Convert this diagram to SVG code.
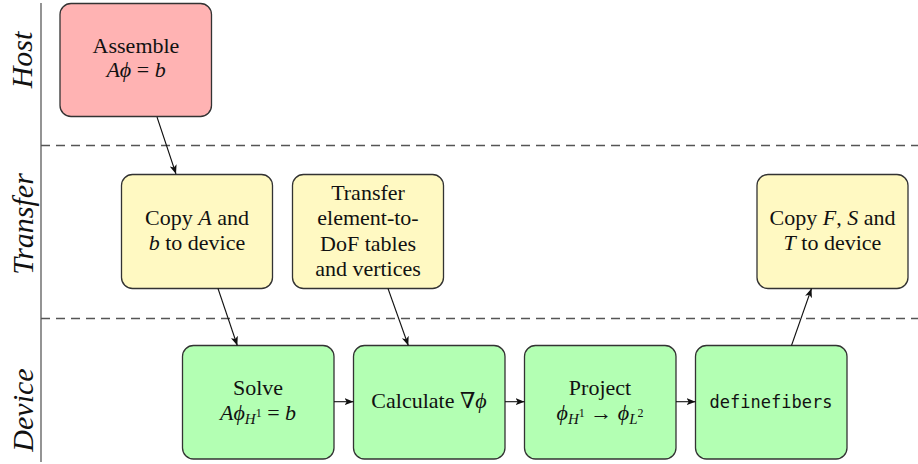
<svg xmlns="http://www.w3.org/2000/svg" width="918" height="464" viewBox="0 0 918 464">
<style>
  .box { stroke: #333; stroke-width: 1.3; }
  .host { fill: #ffb3b3; }
  .xfer { fill: #fff9c2; }
  .dev { fill: #b3ffb3; }
  .t { font-family: "Liberation Serif", "DejaVu Serif", serif; font-size: 22px; fill: #111; text-anchor: middle; }
  .i { font-style: italic; }
  .sub { font-size: 15px; font-style: italic; }
  .sup { font-size: 12px; }
  .mono { font-family: "DejaVu Sans Mono", "Liberation Mono", monospace; font-size: 17px; fill: #111; text-anchor: middle; }
  .lane { font-family: "Liberation Serif", "DejaVu Serif", serif; font-size: 30px; font-style: italic; fill: #111; text-anchor: middle; }
  .conn { stroke: #111; stroke-width: 1.1; fill: none; marker-end: url(#ah); }
  .sep { stroke: #555; stroke-width: 1.3; stroke-dasharray: 9 6; }
</style>
<defs>
  <marker id="ah" viewBox="0 0 10 10" refX="10" refY="5" markerWidth="9" markerHeight="9" markerUnits="userSpaceOnUse" orient="auto">
    <path d="M0,1 L10,5 L0,9 L2.5,5 Z" fill="#111"/>
  </marker>
</defs>
<rect width="918" height="464" fill="#fff"/>
<g id="lanes">
  <line x1="41" y1="3" x2="41" y2="462" stroke="#666" stroke-width="1.4"/>
  <line class="sep" x1="41" y1="145.5" x2="918" y2="145.5"/>
  <line class="sep" x1="41" y1="318.5" x2="918" y2="318.5"/>
  <text class="lane" transform="translate(32,60) rotate(-90)">Host</text>
  <text class="lane" transform="translate(33,224) rotate(-90)">Transfer</text>
  <text class="lane" transform="translate(33,410) rotate(-90)">Device</text>
</g>
<g id="assemble">
  <rect class="box host" x="60" y="3.5" width="151.5" height="113" rx="11"/>
  <text class="t" x="136" y="53">Assemble</text>
  <text class="t" x="136" y="77"><tspan class="i">Aϕ</tspan> = <tspan class="i">b</tspan></text>
</g>
<g id="copyAb">
  <rect class="box xfer" x="121.5" y="174.5" width="151" height="114" rx="11"/>
  <text class="t" x="197" y="225">Copy <tspan class="i">A</tspan> and</text>
  <text class="t" x="197" y="250"><tspan class="i">b</tspan> to device</text>
</g>
<g id="transferTables">
  <rect class="box xfer" x="292.5" y="174.5" width="151" height="114" rx="11"/>
  <text class="t" x="368" y="200">Transfer</text>
  <text class="t" x="368" y="225">element-to-</text>
  <text class="t" x="368" y="250.5">DoF tables</text>
  <text class="t" x="368" y="276">and vertices</text>
</g>
<g id="copyFST">
  <rect class="box xfer" x="757" y="174.5" width="151" height="114" rx="11"/>
  <text class="t" x="832.5" y="225">Copy <tspan class="i">F</tspan>, <tspan class="i">S</tspan> and</text>
  <text class="t" x="832.5" y="250"><tspan class="i">T</tspan> to device</text>
</g>
<g id="solve">
  <rect class="box dev" x="182.5" y="345.5" width="151.5" height="113.5" rx="11"/>
  <text class="t" x="258" y="395">Solve</text>
  <text class="t" x="258" y="420"><tspan class="i">Aϕ</tspan><tspan class="sub" dy="4">H</tspan><tspan class="sup" dy="-7">1</tspan><tspan dy="3"> = </tspan><tspan class="i">b</tspan></text>
</g>
<g id="gradient">
  <rect class="box dev" x="353.5" y="345.5" width="151.5" height="113.5" rx="11"/>
  <text class="t" x="429" y="408">Calculate ∇<tspan class="i">ϕ</tspan></text>
</g>
<g id="project">
  <rect class="box dev" x="524.5" y="345.5" width="151.5" height="113.5" rx="11"/>
  <text class="t" x="600" y="395">Project</text>
  <text class="t" x="600" y="420"><tspan class="i">ϕ</tspan><tspan class="sub" dy="4">H</tspan><tspan class="sup" dy="-7">1</tspan><tspan dy="3"> → </tspan><tspan class="i">ϕ</tspan><tspan class="sub" dy="4">L</tspan><tspan class="sup" dy="-7">2</tspan></text>
</g>
<g id="definefibers">
  <rect class="box dev" x="695.5" y="345.5" width="151.5" height="113.5" rx="11"/>
  <text class="mono" x="771" y="408">definefibers</text>
</g>
<g id="connectors">
  <line class="conn" x1="157" y1="117" x2="176" y2="174"/>
  <line class="conn" x1="218" y1="288.5" x2="237.3" y2="345.5"/>
  <line class="conn" x1="388" y1="288.5" x2="408.3" y2="345.5"/>
  <line class="conn" x1="791.5" y1="345.5" x2="811.5" y2="288.5"/>
  <line class="conn" x1="334" y1="401.7" x2="353.5" y2="401.7"/>
  <line class="conn" x1="505" y1="401.7" x2="524.5" y2="401.7"/>
  <line class="conn" x1="676" y1="401.7" x2="695.5" y2="401.7"/>
</g>
</svg>
